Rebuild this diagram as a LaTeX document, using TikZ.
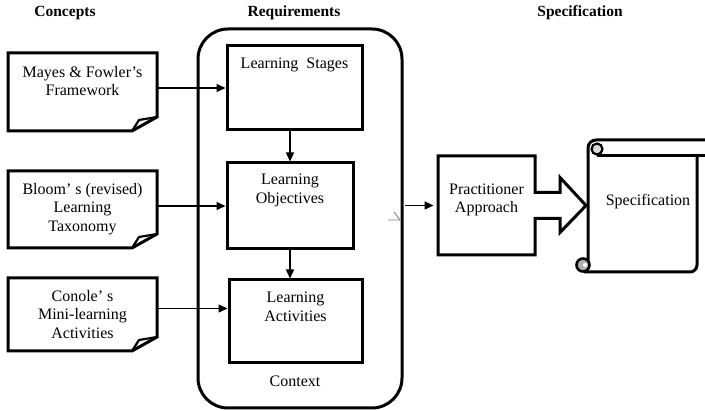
\documentclass[tikz,border=0pt]{standalone}
\usepackage{fontspec}
\setmainfont{Liberation Serif}
\usetikzlibrary{arrows.meta,positioning,calc}

\begin{document}
\begin{tikzpicture}[x=1pt, y=-1pt,
    font=\fontsize{16}{18.5}\selectfont,
    heading/.style={font=\fontsize{15.5}{18.5}\selectfont\bfseries},
    frame/.style={inner sep=0pt, outer sep=0pt},
    box/.style={frame, draw, line width=3pt},
    txt/.style={align=center, inner sep=0pt},
    thickline/.style={line width=3pt, line join=miter},
    link/.style={line width=1.4pt, -{Triangle[length=9pt,width=8pt]}, shorten >=1.5pt}]
  \useasboundingbox (0,0) rectangle (705,411);

  % column headings
  \node[heading] (hconc) at (65,13)  {Concepts};
  \node[heading] (hreq)  at (294,13) {Requirements};
  \node[heading] (hspec) at (580,13) {Specification};

  % concept documents (dog-eared)
  \node[frame, minimum width=149pt, minimum height=78pt] (mayes)  at (82.5,92)    {};
  \node[frame, minimum width=149pt, minimum height=77pt] (bloom)  at (82.5,209.5) {};
  \node[frame, minimum width=149pt, minimum height=73pt] (conole) at (82.5,314.5) {};
  \foreach \d in {mayes,bloom,conole} {
    \draw[thickline] (\d.north west) -- (\d.north east) -- ($(\d.south east)+(0,-14)$)
      -- ($(\d.south east)+(-25,0)$) -- (\d.south west) -- cycle;
    \draw[line width=2.2pt, line join=round] ($(\d.south east)+(-25,0)$)
      .. controls ($(\d.south east)+(-21,-6)$) .. ($(\d.south east)+(-18,-11)$)
      -- ($(\d.south east)+(0,-14)$);
  }
  \node[txt, below=13pt of mayes.north]  {Mayes \& Fowler’s\\Framework};
  \node[txt, below=12pt of bloom.north]  {Bloom’ s (revised)\\Learning\\Taxonomy};
  \node[txt, below=12pt of conole.north] {Conole’ s\\Mini-learning\\Activities};

  % requirements
  \node[box, rounded corners=30pt, minimum width=204pt, minimum height=379pt] (ctx) at (300,218.5) {};
  \node[txt] (ctxlbl) at (295,381) {Context};
  \node[box, minimum width=135pt, minimum height=84pt] (stages) at (294.5,88)  {};
  \node[box, minimum width=126pt, minimum height=86pt] (obj)    at (290,206)   {};
  \node[box, minimum width=133pt, minimum height=83pt] (acts)   at (295.5,321.5) {};
  \node[txt, below=12pt of stages.north] {Learning~~Stages};
  \node[txt, below=11pt of obj.north]    {Learning\\Objectives};
  \node[txt, below=12pt of acts.north]   {Learning\\Activities};

  \draw[link] (mayes.east |- stages.west) -- (stages.west);
  \draw[link] (bloom.east |- obj.west) -- (obj.west);
  \draw[link] ([yshift=6pt]conole.east) -- ([yshift=6pt]conole.east -| acts.west);
  \draw[link] (stages.south -| obj.north) -- (obj.north);
  \draw[link] (obj.south) -- (obj.south |- acts.north);

  % stray mark
  \draw[gray, line width=0.9pt] (388,220) -- (400,220) (394,212) -- (400,220);

  % practitioner approach with block arrow
  \node[frame, minimum width=97pt, minimum height=99pt] (prac) at (486.5,205.5) {};
  \draw[thickline] (prac.north west) -- (prac.north east) -- ($(prac.east)+(0,-13)$)
    -- ($(prac.east)+(25,-13)$) -- ($(prac.east)+(25,-28)$) -- ($(prac.east)+(51,0)$)
    -- ($(prac.east)+(25,27)$) -- ($(prac.east)+(25,13)$) -- ($(prac.east)+(0,13)$)
    -- (prac.south east) -- (prac.south west) -- cycle;
  \node[txt] (practxt) at (486.5,200) {Practitioner\\Approach};
  \draw[link] ([xshift=3pt]ctx.east |- prac.west) -- ([xshift=-3pt]prac.west);

  % specification scroll
  \draw[thickline, rounded corners=8pt] (705,140) -- (588,140) -- (588,266);
  \draw[thickline, rounded corners=7pt] (584,272) -- (697,272) -- (697,156);
  \draw[thickline] (597,156) -- (705,156);
  \draw[line width=2.2pt, fill=gray!30] (597,149) circle[radius=5.5pt];
  \draw[line width=2.6pt, fill=gray!60] (583,265) circle[radius=6.5pt];
  \fill[white] (585,265) circle[radius=2pt];
  \node[txt] (spec) at (648,202) {Specification};
\end{tikzpicture}
\end{document}
